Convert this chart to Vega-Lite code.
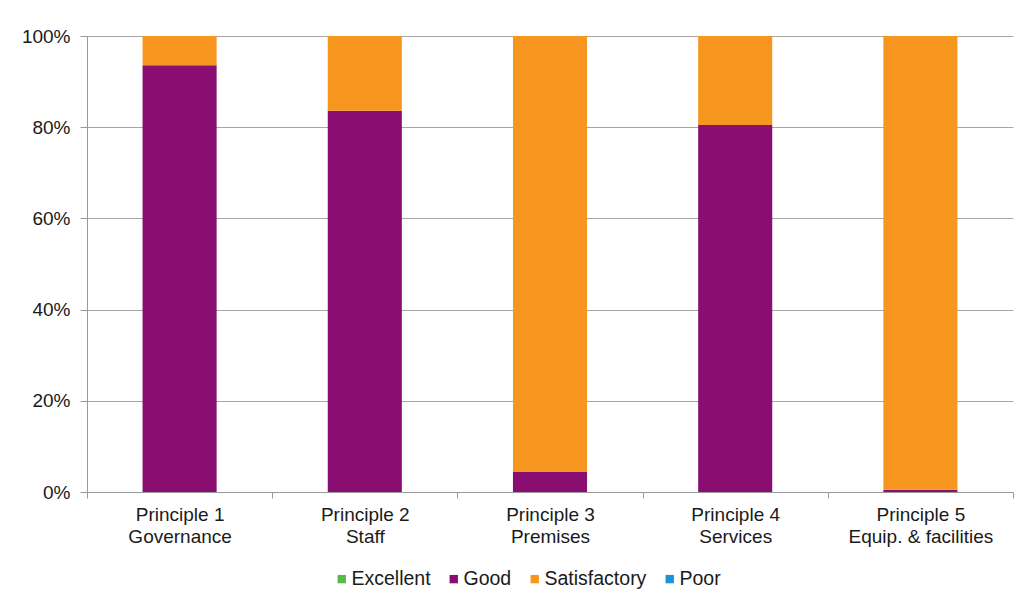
{
  "$schema": "https://vega.github.io/schema/vega-lite/v6.json",
  "width": 926,
  "height": 456,
  "autosize": "none",
  "padding": {"left": 87, "top": 36, "right": 10, "bottom": 104},
  "background": "white",
  "data": {
    "values": [
      {"principle": "Principle 1|Governance", "rating": "Excellent", "rank": 1, "share": 0},
      {"principle": "Principle 1|Governance", "rating": "Good", "rank": 2, "share": 0.936},
      {"principle": "Principle 1|Governance", "rating": "Satisfactory", "rank": 3, "share": 0.064},
      {"principle": "Principle 1|Governance", "rating": "Poor", "rank": 4, "share": 0},
      {"principle": "Principle 2|Staff", "rating": "Excellent", "rank": 1, "share": 0},
      {"principle": "Principle 2|Staff", "rating": "Good", "rank": 2, "share": 0.836},
      {"principle": "Principle 2|Staff", "rating": "Satisfactory", "rank": 3, "share": 0.164},
      {"principle": "Principle 2|Staff", "rating": "Poor", "rank": 4, "share": 0},
      {"principle": "Principle 3|Premises", "rating": "Excellent", "rank": 1, "share": 0},
      {"principle": "Principle 3|Premises", "rating": "Good", "rank": 2, "share": 0.044},
      {"principle": "Principle 3|Premises", "rating": "Satisfactory", "rank": 3, "share": 0.956},
      {"principle": "Principle 3|Premises", "rating": "Poor", "rank": 4, "share": 0},
      {"principle": "Principle 4|Services", "rating": "Excellent", "rank": 1, "share": 0},
      {"principle": "Principle 4|Services", "rating": "Good", "rank": 2, "share": 0.805},
      {"principle": "Principle 4|Services", "rating": "Satisfactory", "rank": 3, "share": 0.195},
      {"principle": "Principle 4|Services", "rating": "Poor", "rank": 4, "share": 0},
      {"principle": "Principle 5|Equip. & facilities", "rating": "Excellent", "rank": 1, "share": 0},
      {"principle": "Principle 5|Equip. & facilities", "rating": "Good", "rank": 2, "share": 0.005},
      {"principle": "Principle 5|Equip. & facilities", "rating": "Satisfactory", "rank": 3, "share": 0.995},
      {"principle": "Principle 5|Equip. & facilities", "rating": "Poor", "rank": 4, "share": 0}
    ]
  },
  "mark": {"type": "bar", "width": {"band": 0.4}},
  "encoding": {
    "x": {
      "field": "principle",
      "type": "nominal",
      "sort": null,
      "scale": {"paddingInner": 0, "paddingOuter": 0},
      "axis": {
        "title": null,
        "labelAngle": 0,
        "labelExpr": "isValid(datum.value) ? split(datum.value, '|') : ''",
        "labelFont": "Liberation Sans",
        "labelFontSize": 19,
        "labelColor": "#1a1a1a",
        "labelPadding": 7,
        "labelLineHeight": 22,
        "tickBand": "extent",
        "tickSize": 6,
        "tickColor": "#999999",
        "domainColor": "#999999",
        "grid": false
      }
    },
    "y": {
      "field": "share",
      "type": "quantitative",
      "stack": "zero",
      "scale": {"domain": [0, 1]},
      "axis": {
        "title": null,
        "format": ".0%",
        "values": [0, 0.2, 0.4, 0.6, 0.8, 1],
        "labelFont": "Liberation Sans",
        "labelFontSize": 19,
        "labelColor": "#1a1a1a",
        "labelPadding": 10,
        "tickSize": 7,
        "tickColor": "#999999",
        "domainColor": "#999999",
        "gridColor": "#a6a6a6",
        "grid": true
      }
    },
    "color": {
      "field": "rating",
      "type": "nominal",
      "scale": {
        "domain": ["Excellent", "Good", "Satisfactory", "Poor"],
        "range": ["#5cb848", "#8a0e72", "#f7961e", "#1a94d4"]
      },
      "legend": {
        "title": null,
        "orient": "none",
        "direction": "horizontal",
        "legendX": 245,
        "legendY": 533,
        "symbolType": "square",
        "symbolSize": 70,
        "symbolStrokeWidth": 0,
        "labelFont": "Liberation Sans",
        "labelFontSize": 19.5,
        "labelColor": "#1a1a1a",
        "columnPadding": 13,
        "labelOffset": 0
      }
    },
    "order": {"field": "rank", "type": "quantitative", "sort": "ascending"}
  },
  "config": {"view": {"stroke": null}}
}
